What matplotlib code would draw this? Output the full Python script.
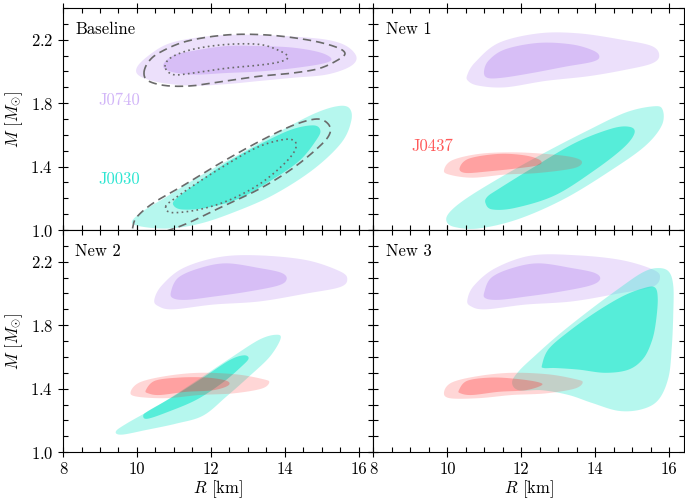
import numpy as np
import matplotlib
matplotlib.use("Agg")
import matplotlib.pyplot as plt
from matplotlib.ticker import MultipleLocator

plt.rcParams.update({
    "font.size": 12,
    "font.family": "serif",
    "font.serif": ["cmr10"],
    "mathtext.fontset": "cm",
    "axes.formatter.use_mathtext": True,
    "axes.unicode_minus": False,
})

# credible-region outlines (R [km], M [Msun]), 68% inner / 95% outer
# --- Baseline
base_j0740_95_R = [9.99, 10.26, 10.80, 11.52, 12.42, 13.32, 14.22, 15.13, 15.67, 15.94, 15.76, 15.13, 14.22, 13.32, 12.42, 11.52, 10.62, 10.08]
base_j0740_95_M = [2.02, 2.09, 2.17, 2.21, 2.23, 2.23, 2.22, 2.20, 2.16, 2.09, 2.03, 1.98, 1.96, 1.94, 1.92, 1.91, 1.93, 1.97]
base_j0740_68_R = [10.71, 10.98, 11.52, 12.42, 13.32, 14.22, 14.95, 15.26, 15.04, 14.22, 13.32, 12.42, 11.52, 10.89]
base_j0740_68_M = [2.04, 2.10, 2.13, 2.16, 2.16, 2.15, 2.12, 2.08, 2.05, 2.02, 2.00, 1.99, 1.98, 2.00]
base_j0030_95_R = [9.86, 10.17, 10.89, 11.70, 12.60, 13.68, 14.76, 15.53, 15.80, 15.74, 15.40, 14.76, 13.77, 12.78, 11.70, 10.80, 10.17]
base_j0030_95_M = [1.05, 1.02, 1.01, 1.04, 1.11, 1.22, 1.38, 1.55, 1.69, 1.77, 1.78, 1.73, 1.61, 1.48, 1.34, 1.21, 1.12]
base_j0030_68_R = [10.98, 11.21, 11.88, 12.78, 13.68, 14.41, 14.86, 14.96, 14.76, 14.14, 13.24, 12.33, 11.52, 11.07]
base_j0030_68_M = [1.16, 1.13, 1.14, 1.20, 1.32, 1.44, 1.57, 1.63, 1.66, 1.63, 1.53, 1.41, 1.28, 1.20]

# reference contours from the previous analysis
ref_j0740_95_R = [10.19, 10.31, 10.62, 11.34, 12.42, 13.51, 14.59, 15.31, 15.62, 15.49, 14.95, 14.22, 13.32, 12.42, 11.52, 10.80, 10.31]
ref_j0740_95_M = [1.99, 2.06, 2.12, 2.19, 2.23, 2.23, 2.20, 2.16, 2.12, 2.08, 2.02, 1.99, 1.97, 1.94, 1.91, 1.91, 1.94]
ref_j0740_68_R = [10.76, 10.94, 11.52, 12.42, 13.32, 13.86, 14.09, 13.86, 13.32, 12.42, 11.52, 10.98]
ref_j0740_68_M = [2.03, 2.09, 2.14, 2.17, 2.17, 2.13, 2.09, 2.06, 2.04, 2.02, 1.99, 1.98]
ref_j0030_95_R = [9.88, 9.99, 10.44, 11.25, 12.24, 13.32, 14.22, 14.86, 15.17, 15.22, 14.95, 14.22, 13.32, 12.24, 11.34, 10.62, 10.00, 9.85]
ref_j0030_95_M = [1.01, 1.08, 1.17, 1.28, 1.42, 1.56, 1.66, 1.70, 1.67, 1.61, 1.53, 1.39, 1.26, 1.14, 1.04, 0.98, 0.94, 0.97]
ref_j0030_68_R = [10.78, 10.94, 11.70, 12.51, 13.32, 13.95, 14.27, 14.27, 13.95, 13.24, 12.33, 11.52, 11.03]
ref_j0030_68_M = [1.15, 1.11, 1.13, 1.19, 1.29, 1.41, 1.50, 1.56, 1.57, 1.52, 1.40, 1.28, 1.20]

# --- New 1
new1_j0740_95_R = [10.54, 10.76, 11.39, 12.47, 13.55, 14.72, 15.53, 15.73, 15.53, 14.81, 13.82, 12.65, 11.57, 10.85, 10.56]
new1_j0740_95_M = [1.98, 2.06, 2.18, 2.24, 2.24, 2.20, 2.16, 2.10, 2.05, 2.01, 1.97, 1.94, 1.90, 1.91, 1.94]
new1_j0740_68_R = [10.99, 11.12, 11.57, 12.47, 13.37, 13.96, 14.11, 13.91, 13.19, 12.29, 11.48, 11.08]
new1_j0740_68_M = [2.00, 2.07, 2.14, 2.18, 2.17, 2.13, 2.09, 2.06, 2.03, 1.99, 1.96, 1.96]
new1_j0030_95_R = [9.97, 10.18, 10.85, 11.93, 13.19, 14.45, 15.35, 15.80, 15.82, 15.57, 14.81, 13.73, 12.65, 11.57, 10.58, 10.09]
new1_j0030_95_M = [1.06, 1.02, 1.01, 1.07, 1.20, 1.38, 1.53, 1.66, 1.76, 1.78, 1.74, 1.62, 1.49, 1.35, 1.21, 1.12]
new1_j0030_68_R = [11.03, 11.21, 11.84, 12.92, 14.00, 14.77, 15.06, 14.94, 14.45, 13.46, 12.29, 11.39, 11.08]
new1_j0030_68_M = [1.17, 1.13, 1.14, 1.22, 1.38, 1.52, 1.61, 1.65, 1.64, 1.55, 1.39, 1.26, 1.21]
new1_j0437_95_R = [9.91, 10.13, 10.85, 11.75, 12.65, 13.37, 13.64, 13.42, 12.47, 11.57, 10.67, 10.04]
new1_j0437_95_M = [1.38, 1.44, 1.48, 1.49, 1.48, 1.46, 1.43, 1.39, 1.36, 1.35, 1.33, 1.35]
new1_j0437_68_R = [10.33, 10.58, 11.39, 12.11, 12.51, 12.47, 11.93, 11.12, 10.49]
new1_j0437_68_M = [1.39, 1.45, 1.48, 1.47, 1.44, 1.41, 1.39, 1.37, 1.36]

# --- New 2
new2_j0740_95_R = [10.47, 10.67, 11.25, 12.24, 13.32, 14.59, 15.49, 15.69, 15.49, 14.59, 13.32, 12.06, 10.98, 10.58]
new2_j0740_95_M = [1.96, 2.05, 2.16, 2.23, 2.24, 2.21, 2.14, 2.09, 2.04, 2.00, 1.95, 1.93, 1.90, 1.92]
new2_j0740_68_R = [10.92, 11.12, 11.70, 12.42, 13.32, 13.91, 14.05, 13.82, 12.96, 12.06, 11.34, 10.98]
new2_j0740_68_M = [2.01, 2.10, 2.16, 2.19, 2.16, 2.13, 2.09, 2.05, 2.01, 1.98, 1.96, 1.97]
new2_j0030_95_R = [9.43, 9.59, 10.26, 11.07, 11.79, 12.42, 13.05, 13.59, 13.88, 13.79, 13.32, 12.51, 11.61, 10.62, 9.72]
new2_j0030_95_M = [1.13, 1.11, 1.14, 1.18, 1.23, 1.35, 1.48, 1.60, 1.71, 1.74, 1.71, 1.59, 1.45, 1.30, 1.18]
new2_j0030_68_R = [10.17, 10.28, 10.80, 11.61, 12.33, 12.83, 13.02, 12.89, 12.51, 11.79, 10.98, 10.31]
new2_j0030_68_M = [1.23, 1.21, 1.25, 1.33, 1.44, 1.54, 1.59, 1.61, 1.58, 1.47, 1.35, 1.26]
new2_j0437_95_R = [9.83, 10.08, 10.80, 11.70, 12.69, 13.41, 13.58, 13.37, 12.60, 11.70, 10.80, 9.99]
new2_j0437_95_M = [1.38, 1.44, 1.48, 1.50, 1.49, 1.46, 1.44, 1.40, 1.37, 1.36, 1.34, 1.35]
new2_j0437_68_R = [10.24, 10.49, 11.16, 11.88, 12.42, 12.47, 12.06, 11.34, 10.62, 10.31]
new2_j0437_68_M = [1.39, 1.45, 1.47, 1.47, 1.45, 1.42, 1.39, 1.38, 1.36, 1.37]

# --- New 3
new3_j0740_95_R = [10.54, 10.72, 11.30, 12.29, 13.55, 14.72, 15.57, 15.75, 15.53, 14.63, 13.37, 12.11, 11.03, 10.63]
new3_j0740_95_M = [1.96, 2.05, 2.16, 2.24, 2.24, 2.21, 2.15, 2.10, 2.04, 2.00, 1.95, 1.93, 1.90, 1.92]
new3_j0740_68_R = [11.00, 11.19, 11.75, 12.47, 13.37, 13.98, 14.13, 13.86, 13.01, 12.11, 11.39, 11.03]
new3_j0740_68_M = [2.01, 2.10, 2.16, 2.19, 2.16, 2.13, 2.09, 2.05, 2.01, 1.98, 1.96, 1.97]
new3_j0030_95_R = [11.75, 11.93, 12.38, 13.01, 13.82, 14.63, 15.26, 15.66, 15.98, 16.11, 16.11, 16.07, 15.98, 15.71, 15.26, 14.63, 13.91, 13.28, 12.56, 11.93]
new3_j0030_95_M = [1.44, 1.51, 1.61, 1.74, 1.89, 2.03, 2.13, 2.16, 2.14, 2.05, 1.87, 1.66, 1.47, 1.33, 1.27, 1.26, 1.31, 1.36, 1.39, 1.39]
new3_j0030_68_R = [12.56, 12.74, 13.28, 14.00, 14.72, 15.26, 15.60, 15.69, 15.64, 15.53, 15.30, 14.90, 14.27, 13.55, 12.92, 12.61]
new3_j0030_68_M = [1.55, 1.65, 1.76, 1.88, 1.98, 2.03, 2.04, 1.97, 1.82, 1.70, 1.59, 1.52, 1.50, 1.52, 1.53, 1.53]
new3_j0437_95_R = [9.91, 10.13, 10.85, 11.75, 12.74, 13.46, 13.66, 13.44, 12.65, 11.75, 10.85, 10.06]
new3_j0437_95_M = [1.38, 1.44, 1.48, 1.50, 1.49, 1.46, 1.44, 1.40, 1.37, 1.36, 1.34, 1.34]
new3_j0437_68_R = [10.31, 10.54, 11.21, 11.93, 12.47, 12.54, 12.11, 11.39, 10.67, 10.36]
new3_j0437_68_M = [1.39, 1.45, 1.47, 1.46, 1.44, 1.42, 1.39, 1.38, 1.36, 1.37]

panel_titles = ["Baseline", "New 1", "New 2", "New 3"]
x_ticks = [8, 10, 12, 14, 16]
y_ticks = [1.0, 1.4, 1.8, 2.2]

# base colours and fill alphas (outer 95%, inner 68% drawn on top)
colors = {"J0740": "#b484f0", "J0030": "#1ee8cd", "J0437": "#ff2828"}
alpha_95 = {"J0740": 0.25, "J0030": 0.32, "J0437": 0.19}
alpha_68 = {"J0740": 0.37, "J0030": 0.63, "J0437": 0.30}


def smooth_closed(xs, ys, n=24):
    """Closed Catmull-Rom spline through the outline points."""
    p = np.column_stack([xs, ys])
    k = len(p)
    t = np.linspace(0, 1, n, endpoint=False)[:, None]
    out = []
    for i in range(k):
        p0, p1, p2, p3 = p[i - 1], p[i], p[(i + 1) % k], p[(i + 2) % k]
        seg = 0.5 * ((2 * p1) + (-p0 + p2) * t + (2 * p0 - 5 * p1 + 4 * p2 - p3) * t ** 2
                     + (-p0 + 3 * p1 - 3 * p2 + p3) * t ** 3)
        out.append(seg)
    out = np.vstack(out)
    return out[:, 0], out[:, 1]


def draw_source(ax, name, R95, M95, R68, M68):
    x, y = smooth_closed(R95, M95)
    ax.fill(x, y, color=colors[name], alpha=alpha_95[name], lw=0)
    x, y = smooth_closed(R68, M68)
    ax.fill(x, y, color=colors[name], alpha=alpha_68[name], lw=0)


def draw_outline(ax, R, M, ls):
    x, y = smooth_closed(R, M)
    x = np.append(x, x[0])
    y = np.append(y, y[0])
    ax.plot(x, y, color="#6a6a6a", lw=1.2, ls=ls)


fig, axes = plt.subplots(2, 2, figsize=(6.85, 4.99), dpi=100, sharex=True, sharey=True)
fig.subplots_adjust(left=0.092, right=0.9985, top=0.984, bottom=0.094, hspace=0, wspace=0)
ax1, ax2, ax3, ax4 = axes.ravel()

draw_source(ax1, "J0740", base_j0740_95_R, base_j0740_95_M, base_j0740_68_R, base_j0740_68_M)
draw_source(ax1, "J0030", base_j0030_95_R, base_j0030_95_M, base_j0030_68_R, base_j0030_68_M)
draw_outline(ax1, ref_j0740_95_R, ref_j0740_95_M, (0, (5, 3)))
draw_outline(ax1, ref_j0740_68_R, ref_j0740_68_M, (0, (1, 2)))
draw_outline(ax1, ref_j0030_95_R, ref_j0030_95_M, (0, (5, 3)))
draw_outline(ax1, ref_j0030_68_R, ref_j0030_68_M, (0, (1, 2)))

draw_source(ax2, "J0740", new1_j0740_95_R, new1_j0740_95_M, new1_j0740_68_R, new1_j0740_68_M)
draw_source(ax2, "J0030", new1_j0030_95_R, new1_j0030_95_M, new1_j0030_68_R, new1_j0030_68_M)
draw_source(ax2, "J0437", new1_j0437_95_R, new1_j0437_95_M, new1_j0437_68_R, new1_j0437_68_M)

draw_source(ax3, "J0740", new2_j0740_95_R, new2_j0740_95_M, new2_j0740_68_R, new2_j0740_68_M)
draw_source(ax3, "J0030", new2_j0030_95_R, new2_j0030_95_M, new2_j0030_68_R, new2_j0030_68_M)
draw_source(ax3, "J0437", new2_j0437_95_R, new2_j0437_95_M, new2_j0437_68_R, new2_j0437_68_M)

draw_source(ax4, "J0740", new3_j0740_95_R, new3_j0740_95_M, new3_j0740_68_R, new3_j0740_68_M)
draw_source(ax4, "J0030", new3_j0030_95_R, new3_j0030_95_M, new3_j0030_68_R, new3_j0030_68_M)
draw_source(ax4, "J0437", new3_j0437_95_R, new3_j0437_95_M, new3_j0437_68_R, new3_j0437_68_M)

ax1.text(8.95, 1.82, "J0740", color="#d2b6f8", ha="left", va="center")
ax1.text(8.95, 1.32, "J0030", color="#2ee6d2", ha="left", va="center")
ax2.text(9.03, 1.53, "J0437", color="#ff5a5a", ha="left", va="center")

for ax, title in zip(axes.ravel(), panel_titles):
    ax.text(0.04, 0.94, title, transform=ax.transAxes, ha="left", va="top")
    ax.set_xlim(8, 16.4)
    ax.set_ylim(1.0, 2.4)
    ax.set_yticks(y_ticks)
    ax.xaxis.set_minor_locator(MultipleLocator(0.5))
    ax.yaxis.set_minor_locator(MultipleLocator(0.1))
    ax.tick_params(which="major", direction="inout", length=7, width=0.8, top=True, right=True)
    ax.tick_params(which="minor", direction="in", length=3.5, width=0.8, top=True, right=True)

ax3.set_xticks(x_ticks, ["8", "10", "12", "14", ""])
ax4.set_xticks(x_ticks, [str(v) for v in x_ticks])
for ax in (ax3, ax4):
    ax.set_xlabel(r"$R$ [km]", labelpad=1)
for ax in (ax1, ax3):
    ax.set_ylabel(r"$M$ [$M_{\odot}$]", labelpad=4)

fig.savefig("out.png", dpi=100)
